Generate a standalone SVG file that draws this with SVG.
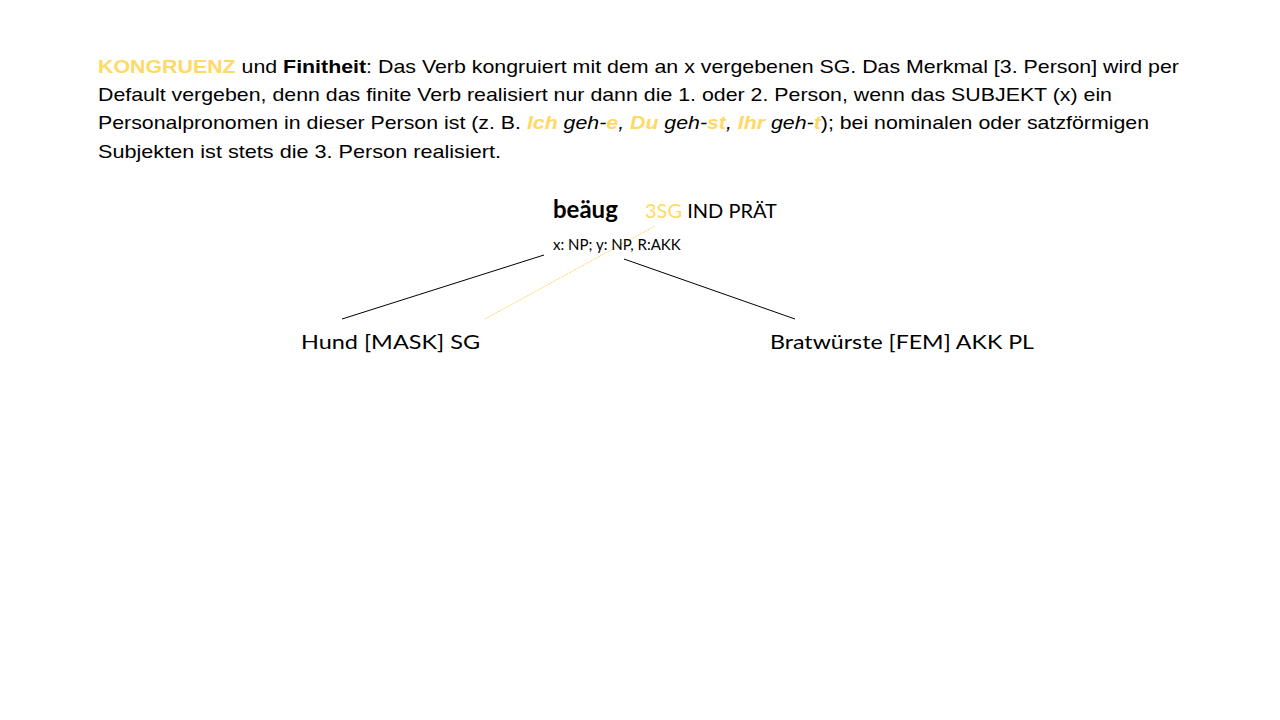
<svg xmlns="http://www.w3.org/2000/svg" width="1280" height="720" viewBox="0 0 1280 720">
<style>
.p{font-family:"Liberation Sans",Arial,sans-serif;font-size:19px;fill:#000}
.y{fill:#FFD966}
.t{font-family:Lato,"Open Sans",sans-serif;fill:#000}
</style>
<rect width="1280" height="720" fill="#fff"/>
<g id="text">
<text class="p" x="98" y="73" textLength="1081" lengthAdjust="spacingAndGlyphs"><tspan class="y" font-weight="bold">KONGRUENZ</tspan> und <tspan font-weight="bold">Finitheit</tspan>: Das Verb kongruiert mit dem an x vergebenen SG. Das Merkmal [3. Person] wird per</text>
<text class="p" x="98" y="101" textLength="1014" lengthAdjust="spacingAndGlyphs">Default vergeben, denn das finite Verb realisiert nur dann die 1. oder 2. Person, wenn das SUBJEKT (x) ein</text>
<text class="p" x="98" y="129" textLength="1051" lengthAdjust="spacingAndGlyphs">Personalpronomen in dieser Person ist (z. B. <tspan font-style="italic"><tspan class="y" font-weight="bold">Ich</tspan> geh-<tspan class="y" font-weight="bold">e</tspan>, <tspan class="y" font-weight="bold">Du</tspan> geh-<tspan class="y" font-weight="bold">st</tspan>, <tspan class="y" font-weight="bold">Ihr</tspan> geh-<tspan class="y" font-weight="bold">t</tspan></tspan>); bei nominalen oder satzförmigen</text>
<text class="p" x="98" y="158" textLength="403" lengthAdjust="spacingAndGlyphs">Subjekten  ist stets die 3. Person realisiert.</text>
</g>
<g id="connectors" fill="none">
<line x1="544" y1="255" x2="342" y2="319" stroke="#000" stroke-width="1"/>
<line x1="624" y1="259" x2="795" y2="319" stroke="#000" stroke-width="1"/>
<line x1="655" y1="226" x2="485" y2="319" stroke="#FFD966" stroke-width="1" stroke-dasharray="2,1"/>
</g>
<g id="verb">
<text class="t" x="553" y="218" font-size="24" font-weight="bold">beäug</text>
<text class="t" x="645" y="218" font-size="20"><tspan class="y">3SG</tspan>  IND  PRÄT</text>
<text class="t" x="553" y="250" font-size="15">x: NP; y: NP, R:AKK</text>
</g>
<g id="hund"><text class="t" x="301" y="349" font-size="20" textLength="179" lengthAdjust="spacingAndGlyphs">Hund   [MASK]  SG</text></g>
<g id="bratwurst"><text class="t" x="770" y="349" font-size="20" textLength="264" lengthAdjust="spacingAndGlyphs">Bratwürste   [FEM]  AKK  PL</text></g>
</svg>
